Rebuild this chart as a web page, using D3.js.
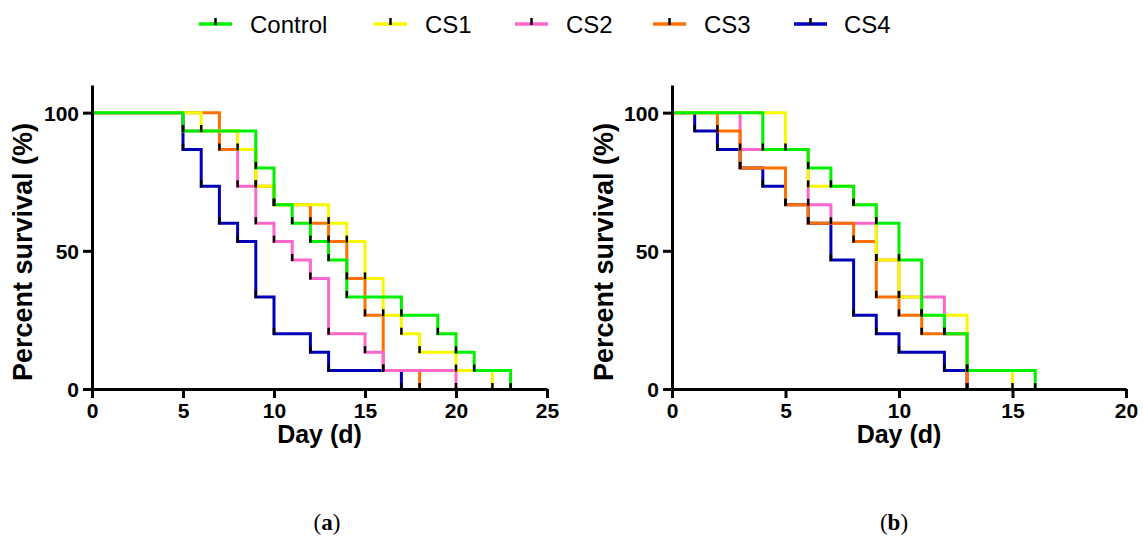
<!DOCTYPE html>
<html>
<head>
<meta charset="utf-8">
<script src="https://cdn.jsdelivr.net/npm/d3@7"></script>
<style>
  html, body { margin: 0; padding: 0; background: #fff; }
  svg { display: block; }
</style>
</head>
<body>
<svg id="chart" width="1143" height="554"></svg>
<script>
// ---------------- DATA ----------------
const seriesNames = ["Control", "CS1", "CS2", "CS3", "CS4"];
const seriesColors = ["#00f000", "#f8f800", "#ff66cc", "#ff7000", "#0000b8"];

// Panel (a): [day, percent survival] step points
const aControl = [[0,100],[5,93.33],[9,80],[10,66.67],[11,60],[12,53.33],[13,46.67],[14,33.33],[17,26.67],[19,20],[20,13.33],[21,6.67],[23,0]];
const aCS1     = [[0,100],[6,93.33],[8,86.67],[9,73.33],[10,66.67],[13,60],[14,53.33],[15,40],[16,26.67],[17,20],[18,13.33],[20,6.67],[22,0]];
const aCS2     = [[0,100],[5,93.33],[8,73.33],[9,60],[10,53.33],[11,46.67],[12,40],[13,20],[15,13.33],[16,6.67],[20,0]];
const aCS3     = [[0,100],[7,86.67],[9,73.33],[10,66.67],[12,60],[13,53.33],[14,40],[15,26.67],[16,6.67],[18,0]];
const aCS4     = [[0,100],[5,86.67],[6,73.33],[7,60],[8,53.33],[9,33.33],[10,20],[12,13.33],[13,6.67],[17,0]];

// Panel (b)
const bControl = [[0,100],[4,86.67],[6,80],[7,73.33],[8,66.67],[9,60],[10,46.67],[11,26.67],[12,20],[13,6.67],[16,0]];
const bCS1     = [[0,100],[5,86.67],[6,73.33],[8,66.67],[9,46.67],[10,33.33],[11,26.67],[13,6.67],[15,0]];
const bCS2     = [[0,100],[3,86.67],[6,66.67],[7,60],[9,46.67],[10,33.33],[12,20],[13,0]];
const bCS3     = [[0,100],[2,93.33],[3,80],[5,66.67],[6,60],[8,53.33],[9,33.33],[10,26.67],[11,20],[13,0]];
const bCS4     = [[0,100],[1,93.33],[2,86.67],[3,80],[4,73.33],[5,66.67],[6,60],[7,46.67],[8,26.67],[9,20],[10,13.33],[12,6.67],[13,0]];

const aXTicks = [0, 5, 10, 15, 20, 25];
const bXTicks = [0, 5, 10, 15, 20];
const yTicks = [0, 50, 100];
const xTitle = "Day (d)";
const yTitle = "Percent survival (%)";
const panelLabels = ["a", "b"];

// ---------------- DRAW ----------------
const svg = d3.select("#chart");
const FONT = "'Liberation Sans', Arial, Helvetica, sans-serif";

const yScale = d3.scaleLinear().domain([0, 110]).range([389, 85]);

function drawPanel(xMax, xRange, data, drawOrder, xTicks, yTitleX, label, labelX) {
  const x = d3.scaleLinear().domain([0, xMax]).range(xRange);
  const g = svg.append("g");

  const line = d3.line()
    .x(d => x(d[0]))
    .y(d => yScale(d[1]))
    .curve(d3.curveStepAfter);

  // series lines, bottom to top
  drawOrder.forEach(i => {
    g.append("path")
      .datum(data[i])
      .attr("d", line)
      .attr("fill", "none")
      .attr("stroke", seriesColors[i])
      .attr("stroke-width", 3)
      .attr("stroke-linejoin", "miter")
      .attr("stroke-linecap", "butt");
  });

  // axes
  const xAxis = d3.axisBottom(x).tickValues(xTicks).tickSize(9).tickSizeOuter(0).tickPadding(5);
  const yAxis = d3.axisLeft(yScale).tickValues(yTicks).tickSize(9).tickSizeOuter(0).tickPadding(4);

  const gx = g.append("g").attr("transform", "translate(0,389)").call(xAxis);
  const gy = g.append("g").attr("transform", `translate(${xRange[0]},0)`).call(yAxis);
  [gx, gy].forEach(ax => {
    ax.select(".domain").attr("stroke", "#000").attr("stroke-width", 3);
    ax.selectAll(".tick line").attr("stroke", "#000").attr("stroke-width", 3);
    ax.selectAll(".tick text")
      .attr("fill", "#000")
      .style("font-family", FONT)
      .style("font-weight", "bold")
      .style("font-size", "21px");
  });
  gx.selectAll(".tick text").attr("dy", "0.71em");
  gy.selectAll(".tick text").attr("dy", "0.36em");

  // censor tick marks (drawn over the lines)
  drawOrder.forEach(i => {
    g.append("g").selectAll("line")
      .data(data[i].slice(1))
      .join("line")
      .attr("x1", d => x(d[0]))
      .attr("x2", d => x(d[0]))
      .attr("y1", d => yScale(d[1]) + 1)
      .attr("y2", d => yScale(d[1]) - 6)
      .attr("stroke", "#000")
      .attr("stroke-width", 2.5);
  });

  // axis titles
  g.append("text")
    .attr("transform", `translate(${yTitleX},252) rotate(-90)`)
    .attr("text-anchor", "middle")
    .attr("dy", "0.36em")
    .style("font-family", FONT)
    .style("font-weight", "bold")
    .style("font-size", "27px")
    .text(yTitle);

  g.append("text")
    .attr("x", (xRange[0] + xRange[1]) / 2)
    .attr("y", 443)
    .attr("text-anchor", "middle")
    .style("font-family", FONT)
    .style("font-weight", "bold")
    .style("font-size", "25px")
    .text(xTitle);

  // panel label (a)/(b)
  const pl = g.append("text")
    .attr("x", labelX)
    .attr("y", 530)
    .attr("text-anchor", "middle")
    .style("font-family", "'Liberation Serif', 'Times New Roman', serif")
    .style("font-size", "23px");
  pl.append("tspan").text("(");
  pl.append("tspan").style("font-weight", "bold").text(label);
  pl.append("tspan").text(")");
}

drawPanel(25, [92, 547], [aControl, aCS1, aCS2, aCS3, aCS4], [4, 3, 2, 1, 0], aXTicks, 22, panelLabels[0], 327);
drawPanel(20, [672, 1126], [bControl, bCS1, bCS2, bCS3, bCS4], [4, 2, 3, 1, 0], bXTicks, 603, panelLabels[1], 894);

// ---------------- LEGEND ----------------
const legendLineX = [199, 374, 515, 653, 794];
const legendTextX = [250, 425, 566, 704, 844];
const leg = svg.append("g");
seriesNames.forEach((name, i) => {
  leg.append("line")
    .attr("x1", legendLineX[i]).attr("x2", legendLineX[i] + 33)
    .attr("y1", 24).attr("y2", 24)
    .attr("stroke", seriesColors[i]).attr("stroke-width", 3.5);
  leg.append("line")
    .attr("x1", legendLineX[i] + 16.5).attr("x2", legendLineX[i] + 16.5)
    .attr("y1", 25).attr("y2", 18)
    .attr("stroke", "#000").attr("stroke-width", 2.5);
  leg.append("text")
    .attr("x", legendTextX[i]).attr("y", 33)
    .style("font-family", FONT)
    .style("font-size", "24px")
    .attr("fill", "#000")
    .text(name);
});
</script>
</body>
</html>
